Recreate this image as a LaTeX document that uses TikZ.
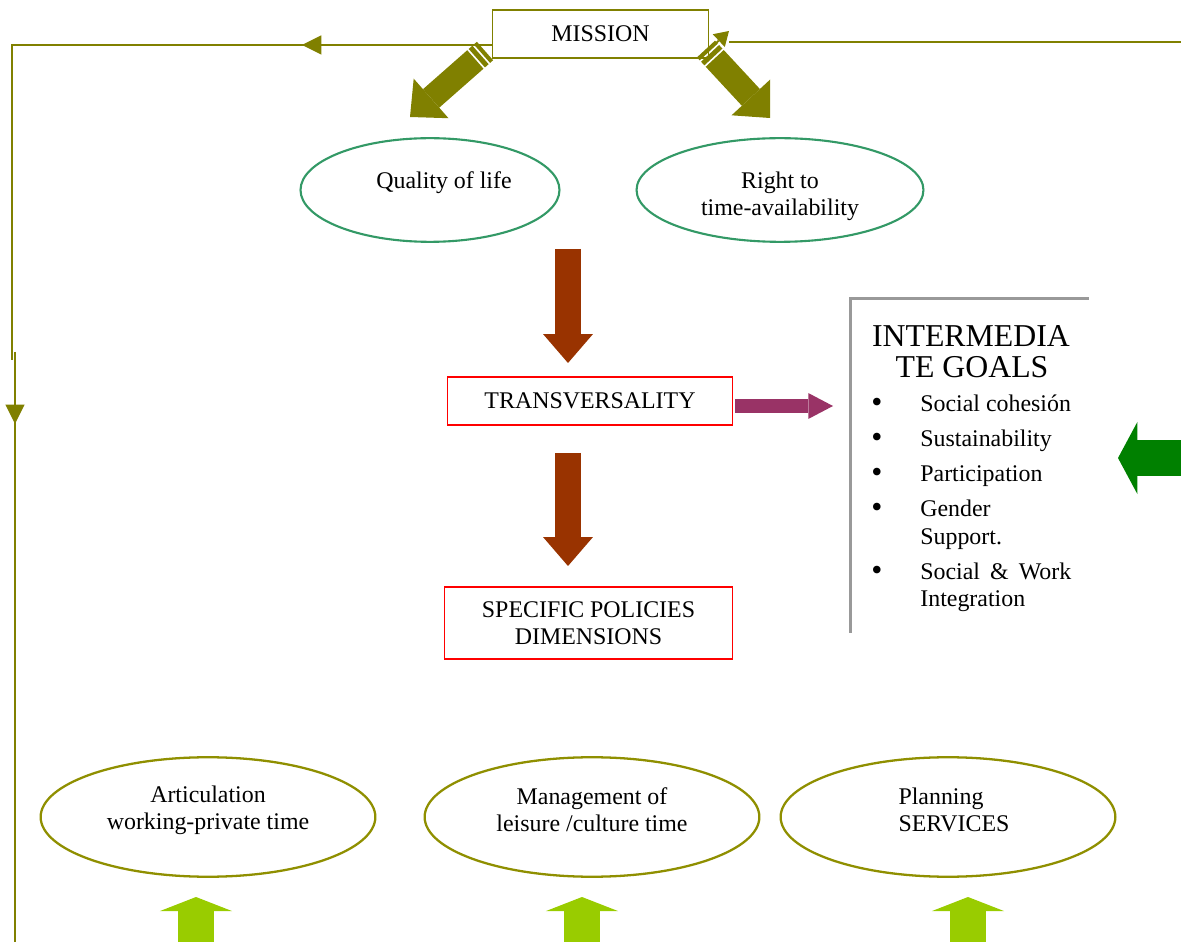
\documentclass[tikz,border=0pt]{standalone}
\usepackage{fontspec}
\setmainfont{Liberation Serif}
\usetikzlibrary{
    arrows.meta,                      % block arrows
    shapes.geometric,                 % ellipse
    calc
}
\definecolor{fbolive}{RGB}{128,128,0}
\definecolor{ellgreen}{RGB}{51,153,102}
\definecolor{ellolive}{RGB}{143,143,0}
\definecolor{goalgray}{RGB}{153,153,153}
\definecolor{rustarrow}{RGB}{153,51,0}
\definecolor{plumarrow}{RGB}{153,51,102}
\definecolor{leafarrow}{RGB}{0,128,0}
\definecolor{limearrow}{RGB}{153,204,0}

\begin{document}
\begin{tikzpicture}[
      x=0.02cm, y=-0.02cm,
      font=\fontsize{13.6}{15.5}\selectfont,
      txt/.style    ={inner sep=0pt, align=center},
      mis/.style    ={draw=fbolive, line width=1pt, fill=white, minimum width=123pt, minimum height=27.2pt, inner sep=0pt},
      redbox/.style ={draw=red, line width=0.9pt, minimum width=162pt, inner sep=0pt, align=center},
      topell/.style ={ellipse, draw=ellgreen, line width=1.2pt, minimum height=59pt, inner sep=0pt},
      botell/.style ={ellipse, draw=ellolive, line width=1.3pt, minimum width=190.5pt, minimum height=68pt, inner sep=0pt},
      fb/.style     ={draw=fbolive, line width=1.1pt},
      fbtip/.style  ={-{Triangle[length=11pt,width=11pt,line width=0pt]}},
      olivearr/.style={draw=fbolive, line width=14pt, -{Triangle[length=16pt,width=30pt,line width=0pt]},
                       dash pattern=on 2.3pt off 1.1pt on 2.8pt off 1.1pt on 200pt off 0pt},
      rustarr/.style={draw=rustarrow, line width=14.7pt, -{Triangle[length=16.4pt,width=28.3pt,line width=0pt]}},
      plumarr/.style={draw=plumarrow, line width=8pt, -{Triangle[length=14pt,width=14.7pt,line width=0pt]}},
      leafarr/.style={draw=leafarrow, line width=20pt, -{Triangle[length=11pt,width=41pt,line width=0pt]}},
      limearr/.style={draw=limearrow, line width=21pt, -{Triangle[length=8pt,width=41pt,line width=0pt]}},
      goalitem/.style ={anchor=base west, inner sep=0pt},
      goalbullet/.style={anchor=base, inner sep=0pt, font=\fontsize{18}{18}\selectfont},
      goaltitle/.style={anchor=base, inner sep=0pt, font=\fontsize{18.1}{21}\selectfont}
    ]
    \useasboundingbox (0,0) rectangle (1181,942);
    \clip (0,0) rectangle (1181,942);

    % --- Lazo de retorno (lineas finas) ---
    \coordinate (fbl)  at (12,45);
    \coordinate (fbm)  at (12,360);
    \coordinate (fbm2) at (15,352);
    \coordinate (fbd)  at (15,424);
    \coordinate (fbb)  at (15,960);
    \coordinate (fbh)  at (302,45);
    \coordinate (fbr)  at (1190,42);
    \coordinate (fbre) at (729,42);

    % --- Mision ---
    \node[mis] (mission) at (600.5,34) {MISSION};

    \draw[fb] (mission.west |- fbl) -- (fbl) -- (fbm);
    \draw[fb, fbtip] (mission.west |- fbl) -- (fbh);
    \draw[fb] (fbm2) -- (fbb);
    \draw[fb, fbtip] (fbm2) -- (fbd);
    \draw[fb] (fbr) -- (fbre);

    % --- Valores (elipses superiores) ---
    \node[topell, minimum width=147.4pt] (qol) at (430,190) {};
    \node[txt] (qoltext) at (444,183) {Quality of life};
    \node[topell, minimum width=163.3pt] (rta) at (780,190) {};
    \node[txt] (rtatext) at (780,196) {Right to\\time-availability};

    % --- Flechas gruesas desde la mision ---
    \coordinate (la0) at (485,51);
    \coordinate (la1) at (410,117);
    \coordinate (ra0) at (706,49);
    \coordinate (ra1) at (770,118);
    \coordinate (rt0) at (712,47);
    \coordinate (rt1) at (729,31);
    \draw[olivearr] (la0) -- (la1);
    \draw[olivearr] (ra0) -- (ra1);
    \draw[fb, -{Triangle[length=8pt,width=10pt,line width=0pt]}] (rt0) -- (rt1);

    % --- Transversalidad y politicas ---
    \node[redbox, minimum height=27.2pt] (transv) at (590,401) {TRANSVERSALITY};
    \node[redbox, minimum width=163.8pt, minimum height=40.8pt] (policies) at (588.5,623)
        {SPECIFIC POLICIES\\DIMENSIONS};

    \coordinate (r1a) at (568,249);
    \coordinate (r1b) at (568,363);
    \coordinate (r2a) at (568,453);
    \coordinate (r2b) at (568,566);
    \draw[rustarr] (r1a) -- (r1b);
    \draw[rustarr] (r2a) -- (r2b);

    % --- Objetivos intermedios ---
    \node[minimum width=135.5pt, minimum height=190pt, inner sep=0pt] (goals) at (969.5,465.5) {};
    \draw[draw=goalgray, line width=1.7pt] (goals.south west) -- (goals.north west) -- (goals.north east);
    \node[goaltitle] (gt1) at (971,347) {INTERMEDIA};
    \node[goaltitle] (gt2) at (972,378) {TE GOALS};
    \foreach \y/\t [count=\i] in {412/Social cohesión, 447/Sustainability, 482/Participation,
        517/Gender, 545/Support., 580/{Social\hspace{0.17em} \&\hspace{0.17em} Work}, 607/Integration}
      \node[goalitem] (g\i) at (920,\y) {\t};
    \foreach \y [count=\i] in {413,448,483,518,581}
      \node[goalbullet] (b\i) at (877,\y) {•};

    \coordinate (p1a) at (735,406);
    \coordinate (p1b) at (833,406);
    \draw[plumarr] (p1a) -- (p1b);

    \coordinate (ga) at (1200,458);
    \coordinate (gb) at (1118,458);
    \draw[leafarr] (ga) -- (gb);

    % --- Dimensiones (elipses inferiores) ---
    \node[botell] (artic) at (208,817) {};
    \node[txt] (artictext) at (208,810) {Articulation\\working-private time};
    \node[botell] (leisure) at (592,817) {};
    \node[txt] (leisuretext) at (592,810) {Management of\\leisure /culture time};
    \node[botell] (plan) at (948,817) {};
    \node[txt, align=left] (plantext) at (954,810) {Planning\\SERVICES};

    \foreach \x [count=\i] in {196,582,968} {
      \coordinate (lt\i) at (\x,960);
      \coordinate (lh\i) at (\x,897);
      \draw[limearr] (lt\i) -- (lh\i);
    }

  \end{tikzpicture}
\end{document}
